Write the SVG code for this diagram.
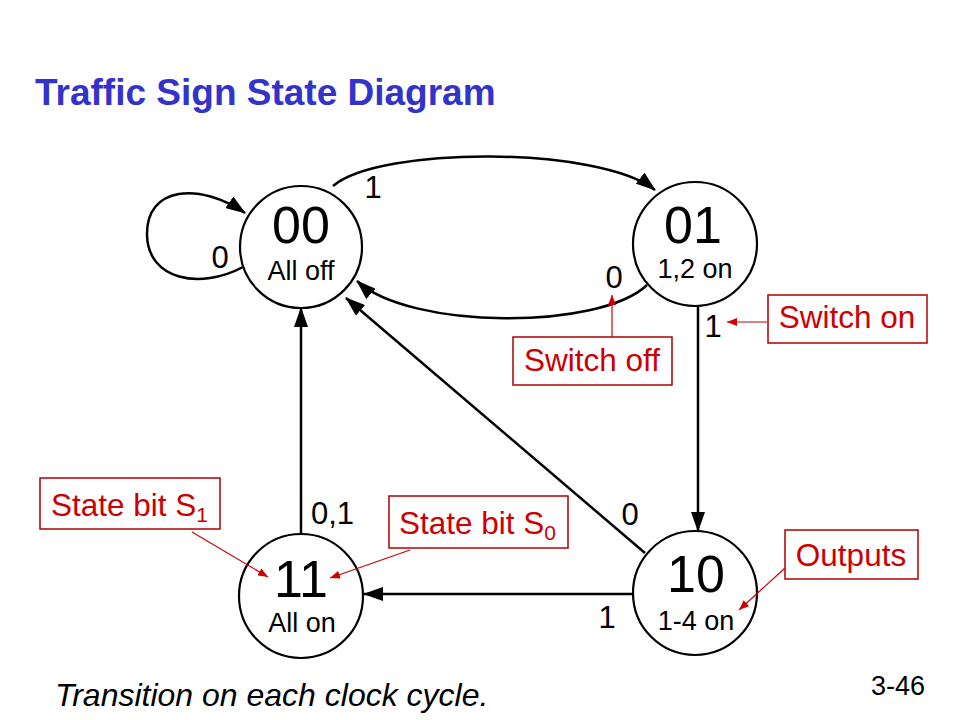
<svg xmlns="http://www.w3.org/2000/svg" width="960" height="720" viewBox="0 0 960 720">
<style>
.t{font-family:"Liberation Sans",Arial,sans-serif;fill:#000}
.big{font-size:52px;text-anchor:middle}
.sub{font-size:27px;text-anchor:middle}
.lbl{font-size:31px;text-anchor:middle}
.node{fill:#fff;stroke:#000;stroke-width:2.2}
.edge{fill:none;stroke:#000;stroke-width:2.5}
.rbox{fill:#fff;stroke:#B00000;stroke-width:1.5}
.rtxt{font-family:"Liberation Sans",Arial,sans-serif;font-size:31.5px;fill:#CC0000}
.rline{stroke:#CC0000;stroke-width:1.2;fill:none}
</style>
<defs>
<marker id="ah" markerUnits="userSpaceOnUse" markerWidth="20" markerHeight="14" refX="19" refY="7" orient="auto">
<path d="M0,0 L20,7 L0,14 Z" fill="#000"/>
</marker>
<marker id="rh" markerUnits="userSpaceOnUse" markerWidth="10" markerHeight="8" refX="10" refY="4" orient="auto">
<path d="M0,0 L10,4 L0,8 Z" fill="#CC0000"/>
</marker>
</defs>
<rect width="960" height="720" fill="#fff"/>
<text x="35" y="105" style="font-family:'Liberation Sans',Arial,sans-serif;font-size:37px;font-weight:bold;fill:#3333CC">Traffic Sign State Diagram</text>

<g id="connectors">
<path class="edge" d="M243,267 C200,290 148,280 147,235 C146,186 200,182 245,213" marker-end="url(#ah)"/>
<path class="edge" d="M333,186 C380,146 600,146 655,190" marker-end="url(#ah)"/>
<path class="edge" d="M647,285 C600,330 410,330 357,281" marker-end="url(#ah)"/>
<path class="edge" d="M698,306 L698,531" marker-end="url(#ah)"/>
<path class="edge" d="M633,594 L364,594" marker-end="url(#ah)"/>
<path class="edge" d="M301,534 L301,308" marker-end="url(#ah)"/>
<path class="edge" d="M645,553 L346,298" marker-end="url(#ah)"/>
<text class="t lbl" x="220" y="268">0</text>
<text class="t lbl" x="373" y="198">1</text>
<text class="t lbl" x="614" y="288">0</text>
<text class="t lbl" x="713" y="337">1</text>
<text class="t" x="311" y="524" style="font-size:31px">0,1</text>
<text class="t lbl" x="630" y="525">0</text>
<text class="t lbl" x="607" y="628">1</text>
</g>

<g id="s00">
<circle class="node" cx="301" cy="247" r="61"/>
<text class="t big" x="301" y="243">00</text>
<text class="t sub" x="301" y="280">All off</text>
</g>
<g id="s01">
<circle class="node" cx="695" cy="244" r="62"/>
<text class="t big" x="693" y="243">01</text>
<text class="t sub" x="695" y="278">1,2 on</text>
</g>
<g id="s11">
<circle class="node" cx="301" cy="596" r="62"/>
<text class="t big" x="301" y="597">11</text>
<text class="t sub" x="302" y="632">All on</text>
</g>
<g id="s10">
<circle class="node" cx="695" cy="593" r="62"/>
<text class="t big" x="696" y="592">10</text>
<text class="t sub" x="696" y="630">1-4 on</text>
</g>

<g id="callout-switch-off">
<rect class="rbox" x="513" y="337" width="159" height="48"/>
<text class="rtxt" x="592" y="371" text-anchor="middle">Switch off</text>
<path class="rline" d="M612,337 L612,295" marker-end="url(#rh)"/>
</g>
<g id="callout-switch-on">
<rect class="rbox" x="768" y="295" width="159" height="48"/>
<text class="rtxt" x="847" y="328" text-anchor="middle">Switch on</text>
<path class="rline" d="M767,322 L727,322" marker-end="url(#rh)"/>
</g>
<g id="callout-s1">
<rect class="rbox" x="40" y="478" width="180" height="51"/>
<text class="rtxt" x="51" y="516">State bit S<tspan font-size="21" dy="6">1</tspan></text>
<path class="rline" d="M192,532 L268,577" marker-end="url(#rh)"/>
</g>
<g id="callout-s0">
<rect class="rbox" x="389" y="496" width="179" height="52"/>
<text class="rtxt" x="399" y="534">State bit S<tspan font-size="21" dy="6">0</tspan></text>
<path class="rline" d="M410,550 L330,578" marker-end="url(#rh)"/>
</g>
<g id="callout-outputs">
<rect class="rbox" x="785" y="530" width="133" height="49"/>
<text class="rtxt" x="851" y="566" text-anchor="middle">Outputs</text>
<path class="rline" d="M785,568 L739,610" marker-end="url(#rh)"/>
</g>

<text x="55" y="706" style="font-family:'Liberation Sans',Arial,sans-serif;font-size:32px;font-style:italic;fill:#000">Transition on each clock cycle.</text>
<text x="925" y="695" text-anchor="end" style="font-family:'Liberation Sans',Arial,sans-serif;font-size:27px;fill:#000">3-46</text>
</svg>
